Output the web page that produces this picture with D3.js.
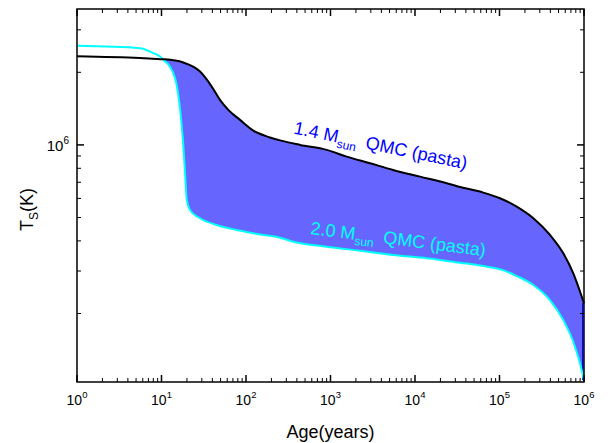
<!DOCTYPE html>
<html>
<head>
<meta charset="utf-8">
<script src="https://cdn.jsdelivr.net/npm/d3@7"></script>
<style>
  body { margin: 0; background: #fff; }
  svg { display: block; }
  text { font-family: Arial, "Liberation Sans", sans-serif; }
</style>
</head>
<body>
<svg id="chart" width="615" height="443"></svg>
<script>
// Surface temperature cooling curves, age in years vs T_s in K
const ages14 = [1, 5.57, 9.6, 11.0, 18.1, 28.6, 39.3, 49.2, 61.7, 84.9, 122, 192, 253, 436,
  902, 1555, 2934, 5490, 11460, 23720, 34090, 64330, 101400, 159800, 251200, 395900, 568900, 747000, 1000000];
const temps14 = [2.329e6, 2.290e6, 2.268e6, 2.264e6, 2.196e6, 2.014e6, 1.745e6, 1.537e6, 1.397e6, 1.270e6, 1.147e6, 1.074e6, 1.044e6, 1.0e6,
  9.535e5, 8.944e5, 8.398e5, 7.876e5, 7.388e5, 6.935e5, 6.694e5, 6.340e5, 6.009e5, 5.546e5, 4.965e5, 4.233e5, 3.553e5, 2.935e5, 2.204e5];

const ages20 = [1, 5.57, 8.0, 9.6, 10.5, 12.6, 15.1, 16.1, 17.3, 18.1,
  19.0, 19.9, 21.7, 28.6, 45.0, 77.6, 146.5, 252.6, 362.9, 901.6,
  2234, 5537, 13755, 34090, 64330, 101400, 159800, 251200, 395900, 568900,
  747000, 897000, 1000000];
const temps20 = [2.575e6, 2.519e6, 2.402e6, 2.325e6, 2.253e6, 2.107e6, 1.774e6, 1.537e6, 1.211e6, 1.0e6,
  7.630e5, 5.913e5, 5.375e5, 4.965e5, 4.656e5, 4.440e5, 4.253e5, 4.125e5, 3.970e5, 3.784e5,
  3.642e5, 3.496e5, 3.388e5, 3.248e5, 3.147e5, 3.050e5, 2.860e5, 2.625e5, 2.274e5, 1.879e5,
  1.527e5, 1.243e5, 1.059e5];

const xDecades = [0, 1, 2, 3, 4, 5, 6];      // exponents of the age tick labels
const yMajor = [6];                           // exponents of the labelled T_s ticks
const seriesLabels = [
  { main: "1.4 M", sub: "sun", rest: "QMC (pasta)", age: 360, temp: 1.116e6, angle: 11.7, color: "#0000ff" },
  { main: "2.0 M", sub: "sun", rest: "QMC (pasta)", age: 572, temp: 4.27e5, angle: 7.2, color: "#00ffff" }
];

const svg = d3.select("#chart");
const pLeft = 77, pRight = 584, pTop = 9, pBottom = 382;

const x = d3.scaleLog().domain([1, 1e6]).range([pLeft, pRight]);
const y = d3.scaleLog().domain([1.04e5, 3.66e6]).range([pBottom, pTop]);

const s14 = ages14.map((a, i) => [a, temps14[i]]);
const s20 = ages20.map((a, i) => [a, temps20[i]]);
const curve = d3.curveMonotoneX;

// region above the 2.0 Msun curve
svg.append("defs").append("clipPath").attr("id", "above20")
  .append("path")
  .attr("d", d3.area().curve(curve).x(d => x(d[0])).y0(pTop - 20).y1(d => y(d[1]))(s20));

// band between the two cooling curves
svg.append("path")
  .attr("clip-path", "url(#above20)")
  .attr("d", d3.area().curve(curve).x(d => x(d[0])).y0(pBottom).y1(d => y(d[1]))(s14))
  .attr("fill", "#6666ff");

// right edge of the band
svg.append("line")
  .attr("x1", x(ages14[ages14.length - 1]) - 1.5).attr("x2", x(ages20[ages20.length - 1]) - 1.5)
  .attr("y1", y(temps14[temps14.length - 1])).attr("y2", y(temps20[temps20.length - 1]))
  .attr("stroke", "#0000ff").attr("stroke-width", 1);

const line = d3.line().curve(curve).x(d => x(d[0])).y(d => y(d[1]));
svg.append("path").attr("d", line(s20)).attr("fill", "none")
  .attr("stroke", "#00ffff").attr("stroke-width", 2);
svg.append("path").attr("d", line(s14)).attr("fill", "none")
  .attr("stroke", "#000").attr("stroke-width", 2);

// frame
svg.append("rect").attr("x", pLeft).attr("y", pTop)
  .attr("width", pRight - pLeft).attr("height", pBottom - pTop)
  .attr("fill", "none").attr("stroke", "#000").attr("stroke-width", 1.5);

// ticks, all pointing inward
const tk = svg.append("g").attr("stroke", "#000");
const xTickVals = [];
xDecades.forEach(k => {
  xTickVals.push({ v: Math.pow(10, k), major: true });
  if (k < 6) for (let m = 2; m <= 9; m++) xTickVals.push({ v: m * Math.pow(10, k), major: false });
});
xTickVals.forEach(t => {
  const len = t.major ? 7 : 4, px = x(t.v);
  tk.append("line").attr("x1", px).attr("x2", px).attr("y1", pBottom).attr("y2", pBottom - len)
    .attr("stroke-width", t.major ? 1.5 : 1);
  tk.append("line").attr("x1", px).attr("x2", px).attr("y1", pTop).attr("y2", pTop + len)
    .attr("stroke-width", t.major ? 1.5 : 1);
});
const [yLo, yHi] = y.domain();
const yTickVals = [];
for (let k = 4; k <= 7; k++) {
  for (let m = 1; m <= 9; m++) {
    const v = m * Math.pow(10, k);
    if (v >= yLo && v <= yHi) yTickVals.push({ v, major: m === 1 && yMajor.includes(k) });
  }
}
yTickVals.forEach(t => {
  const len = t.major ? 7 : 4, py = y(t.v);
  tk.append("line").attr("x1", pLeft).attr("x2", pLeft + len).attr("y1", py).attr("y2", py)
    .attr("stroke-width", t.major ? 1.5 : 1);
  tk.append("line").attr("x1", pRight).attr("x2", pRight - len).attr("y1", py).attr("y2", py)
    .attr("stroke-width", t.major ? 1.5 : 1);
});

// tick labels
xDecades.forEach(k => {
  const t = svg.append("text").attr("x", x(Math.pow(10, k))).attr("y", 405)
    .attr("text-anchor", "middle").attr("font-size", 14).attr("fill", "#000");
  t.append("tspan").text("10");
  t.append("tspan").attr("font-size", 9.5).attr("dy", -7).text(k);
});
yMajor.forEach(k => {
  const t = svg.append("text").attr("x", pLeft - 8).attr("y", y(Math.pow(10, k)) + 6)
    .attr("text-anchor", "end").attr("font-size", 15).attr("fill", "#000");
  t.append("tspan").text("10");
  t.append("tspan").attr("font-size", 10).attr("dy", -7).text(k);
});

// axis titles
svg.append("text").attr("x", (pLeft + pRight) / 2).attr("y", 438)
  .attr("text-anchor", "middle").attr("font-size", 18).text("Age(years)");
const yt = svg.append("text").attr("transform", `translate(33,${(pTop + pBottom) / 2 + 14}) rotate(-90)`)
  .attr("text-anchor", "middle").attr("font-size", 18);
yt.append("tspan").text("T");
yt.append("tspan").attr("font-size", 12).attr("dy", 5).text("S");
yt.append("tspan").attr("dy", -5).text("(K)");

// curve labels
seriesLabels.forEach(l => {
  const t = svg.append("text")
    .attr("transform", `translate(${x(l.age)},${y(l.temp)}) rotate(${l.angle})`)
    .attr("font-size", 18).attr("fill", l.color);
  t.append("tspan").text(l.main);
  t.append("tspan").attr("font-size", 12).attr("dy", 5).text(l.sub);
  t.append("tspan").attr("dy", -5).attr("dx", 9).text(l.rest);
});
</script>
</body>
</html>
